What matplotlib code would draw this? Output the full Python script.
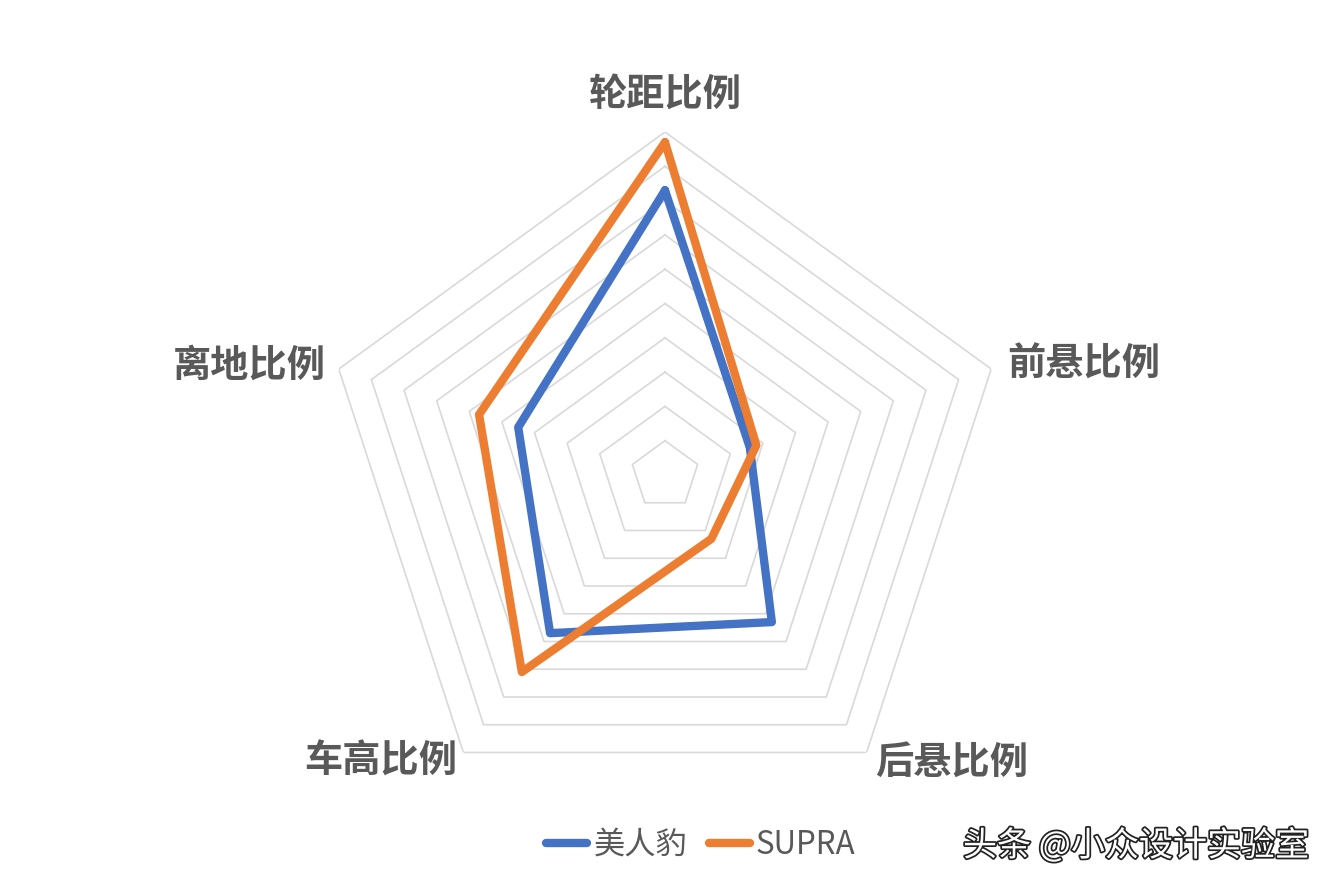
import numpy as np
import matplotlib
matplotlib.use("Agg")
import matplotlib.pyplot as plt
from matplotlib.lines import Line2D
import matplotlib.patheffects as pe

plt.rcParams["font.family"] = ["Noto Sans CJK SC", "DejaVu Sans"]

# 数据
categorias = ["轮距比例", "前悬比例", "后悬比例", "车高比例", "离地比例"]
meirenbao = [0.83, 0.26, 0.53, 0.57, 0.45]
supra = [0.97, 0.28, 0.23, 0.71, 0.57]
series_nomes = ["美人豹", "SUPRA"]
grade = [0.1, 0.2, 0.3, 0.4, 0.5, 0.6, 0.7, 0.8, 0.9, 1.0]

cor_azul = "#4472C4"
cor_laranja = "#ED7D31"
cor_texto = "#595959"
cor_grade = "#D9D9D9"

W, H = 1334, 889
fig = plt.figure(figsize=(W / 100, H / 100), dpi=100)
cx, cy, R = 665, 475, 343
ax = fig.add_axes([(cx - R) / W, (H - cy - R) / H, 2 * R / W, 2 * R / H],
                  projection="polar")
ax.set_theta_offset(np.pi / 2)
ax.set_theta_direction(-1)
ax.set_ylim(0, 1.0)
ax.grid(False)
ax.set_xticks([])
ax.set_yticks([])
ax.spines["polar"].set_visible(False)
ax.patch.set_alpha(0)

n = len(categorias)
angulos = np.linspace(0, 2 * np.pi, n, endpoint=False)
ang_fech = np.append(angulos, angulos[0])

# anéis pentagonais
for g in grade:
    ax.plot(ang_fech, [g] * (n + 1), color=cor_grade, lw=1.2, zorder=1)

# séries
for vals, cor in [(meirenbao, cor_azul), (supra, cor_laranja)]:
    ax.plot(ang_fech, vals + vals[:1], color=cor, lw=6.0,
            solid_joinstyle="round", solid_capstyle="round", zorder=3)

# rótulos das categorias
pos_rotulos = [
    (1.055, "center", "bottom"),
    (1.05, "left", "center"),
    (1.04, "left", "center"),
    (1.03, "right", "center"),
    (1.04, "right", "center"),
]
for ang, nome, (r, ha, va) in zip(angulos, categorias, pos_rotulos):
    ax.text(ang, r, nome, ha=ha, va=va, fontsize=27.5, fontweight="bold",
            color=cor_texto)

# legenda
handles = [Line2D([0], [0], color=cor_azul, lw=6.0, solid_capstyle="round"),
           Line2D([0], [0], color=cor_laranja, lw=6.0, solid_capstyle="round")]
leg = fig.legend(handles, series_nomes, loc="center",
                 bbox_to_anchor=(701 / W, 1 - 845 / H), ncol=2, frameon=False,
                 fontsize=22.5, handlelength=1.3, handletextpad=0.2,
                 columnspacing=0.7, labelcolor=cor_texto)

# marca d'água
fig.text(963 / W, 1 - 846 / H, "头条 @小众设计实验室", fontsize=24.5, color="white",
         ha="left", va="center",
         path_effects=[pe.withStroke(linewidth=2.5, foreground="#222222")])

fig.savefig("out.png", dpi=100, facecolor="white")
